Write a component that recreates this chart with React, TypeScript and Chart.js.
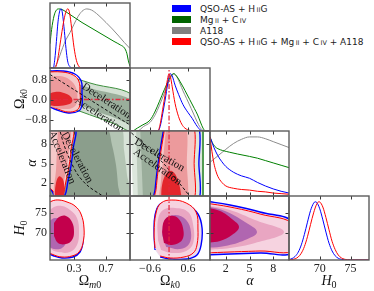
import React, { useEffect, useRef } from "react";
import { Chart, registerables } from "chart.js";
Chart.register(...registerables);

type P = [number, number];

// ---------- tick values ----------
const omTicks = [0.3, 0.7];
const okTicksX = [-0.6, 0.6];
const okTicksY = [0.8, 0.0, -0.8];
const alTicks = [2, 5, 8];
const h0Ticks = [70, 75];

// ---------- 1D marginal posteriors ----------
const omBlue: P[] = [[0,0],[0.04,0],[0.06,0.15],[0.08,0.45],[0.1,0.78],[0.125,0.98],[0.14,1.0],[0.155,0.93],[0.18,0.62],[0.2,0.33],[0.22,0.12],[0.25,0.02],[0.29,0],[1,0]];
const omGreen: P[] = [[0,0.41],[0.02,0.65],[0.05,0.88],[0.08,0.98],[0.11,1.0],[0.15,0.99],[0.2,0.95],[0.3,0.86],[0.4,0.77],[0.5,0.69],[0.6,0.61],[0.7,0.53],[0.8,0.45],[0.88,0.39],[0.93,0.34],[0.96,0.25],[0.98,0.12],[1.0,0.03]];
const omGray: P[] = [[0.05,0],[0.08,0.06],[0.12,0.2],[0.16,0.35],[0.2,0.48],[0.25,0.6],[0.3,0.74],[0.35,0.87],[0.4,0.96],[0.46,1.0],[0.52,0.98],[0.6,0.9],[0.7,0.77],[0.78,0.66],[0.86,0.54],[0.93,0.43],[1.0,0.33]];
const omRed: P[] = [[0,0],[0.06,0],[0.09,0.1],[0.12,0.35],[0.15,0.62],[0.18,0.85],[0.21,0.99],[0.225,1.0],[0.245,0.93],[0.27,0.68],[0.3,0.35],[0.33,0.13],[0.36,0.03],[0.4,0],[1,0]];

const okRed: P[] = [[-1.3,0],[-0.35,0],[-0.28,0.12],[-0.2,0.38],[-0.12,0.65],[-0.05,0.9],[0,1.0],[0.05,0.93],[0.1,0.77],[0.19,0.48],[0.3,0.25],[0.4,0.12],[0.5,0.05],[0.66,0.01],[0.8,0],[1.3,0]];
const okBlue: P[] = [[-1.3,0],[-0.35,0],[-0.28,0.08],[-0.2,0.3],[-0.1,0.62],[-0.02,0.9],[0.04,1.0],[0.1,0.96],[0.19,0.8],[0.3,0.64],[0.44,0.46],[0.6,0.32],[0.73,0.22],[0.85,0.11],[0.98,0.02],[1.05,0],[1.3,0]];
const okGreen: P[] = [[-1.3,0],[-1.17,0],[-1.0,0.05],[-0.85,0.1],[-0.6,0.19],[-0.45,0.33],[-0.3,0.52],[-0.15,0.72],[0,0.9],[0.1,0.99],[0.15,1.0],[0.25,0.95],[0.35,0.86],[0.5,0.71],[0.65,0.55],[0.8,0.39],[0.9,0.28],[1.0,0.14],[1.07,0.05],[1.15,0],[1.3,0]];
const okGray: P[] = [[-1.3,0],[-1.0,0],[-0.8,0.08],[-0.6,0.15],[-0.45,0.27],[-0.3,0.45],[-0.15,0.66],[0,0.87],[0.1,0.98],[0.15,1.0],[0.25,0.94],[0.35,0.82],[0.44,0.7],[0.55,0.57],[0.7,0.39],[0.82,0.24],[0.93,0.11],[1.04,0.02],[1.1,0],[1.3,0]];
const okFlatLine1D: P[] = [[0,0],[0,1.2]];

const alRed: P[] = [[0,1.0],[0.25,0.75],[0.5,0.55],[0.75,0.42],[1,0.33],[1.5,0.23],[2,0.17],[3,0.13],[4,0.11],[5,0.1],[6,0.08],[7,0.07],[8,0.05],[9,0.04],[10,0.03]];
const alBlue: P[] = [[0,1.0],[0.5,0.82],[1,0.68],[1.5,0.58],[2,0.5],[3,0.4],[4,0.34],[5,0.3],[6,0.23],[7,0.17],[8,0.12],[9,0.08],[10,0.05]];
const alGreen: P[] = [[0,1.0],[0.3,0.9],[0.6,0.84],[1,0.8],[1.6,0.77],[2.5,0.74],[3.5,0.71],[5,0.67],[6,0.64],[7,0.6],[8,0.56],[9,0.52],[10,0.48]];
const alGray: P[] = [[0,0.57],[1,0.68],[2,0.79],[3,0.89],[4,0.96],[5,1.0],[6,1.0],[7,0.97],[8,0.92],[9,0.87],[10,0.82]];

const h0Blue: P[] = [[64.5,0.003],[65,0.009],[65.5,0.025],[66,0.062],[66.5,0.135],[67,0.26],[67.5,0.44],[68,0.65],[68.5,0.85],[69,0.977],[69.25,1.0],[69.5,0.99],[70,0.88],[70.5,0.69],[71,0.48],[71.5,0.29],[72,0.156],[72.5,0.073],[73,0.03],[73.5,0.011],[74,0.004],[74.5,0.001],[78,0]];
const h0Red: P[] = [[64.5,0.001],[65,0.002],[65.5,0.007],[66,0.021],[66.5,0.052],[67,0.117],[67.5,0.23],[68,0.4],[68.5,0.61],[69,0.81],[69.5,0.96],[69.85,1.0],[70,0.997],[70.5,0.91],[71,0.73],[71.5,0.52],[72,0.32],[72.5,0.18],[73,0.086],[73.5,0.037],[74,0.014],[74.5,0.005],[75,0.001],[78,0]];

// ---------- 2D contours: Omega_m0 vs Omega_k0 ----------
const A_green2: P[] = [[-0.075,1.22],[0.5,0.66],[1.075,0.06],[1.075,-1.26],[0.75,-0.9],[0.4,-0.5],[0.125,-0.18],[-0.075,0.06]];
const A_green1: P[] = [[-0.025,0.98],[0.5,0.46],[1.075,-0.14],[1.075,-0.98],[0.75,-0.66],[0.4,-0.26],[0.125,0.06],[-0.025,0.26]];
const A_blue: P[] = [[-0.05,1.14],[0.16,1.14],[0.31,1.02],[0.39,0.74],[0.4,0.26],[0.4,-0.22],[0.36,-0.46],[0.23,-0.54],[0.09,-0.42],[-0.05,-0.22]];
const A_red2: P[] = [[-0.05,1.1],[0.15,1.1],[0.29,0.98],[0.36,0.74],[0.375,0.3],[0.375,-0.18],[0.34,-0.42],[0.225,-0.5],[0.1,-0.38],[-0.05,-0.18]];
const A_red1: P[] = [[-0.05,0.86],[0.125,0.94],[0.25,0.78],[0.325,0.46],[0.34,-0.02],[0.3,-0.3],[0.175,-0.38],[-0.05,-0.26]];
const A_red0: P[] = [[-0.05,0.18],[0.0625,0.3],[0.175,0.26],[0.2625,0.1],[0.275,-0.1],[0.2,-0.22],[0.075,-0.26],[-0.05,-0.22]];
const A_decel: P[] = [[0,1.0],[1.0,-1.02]];
const A_flat: P[] = [[-0.1,0],[1.1,0]];

// ---------- Omega_m0 vs alpha ----------
const B_g0: P[] = [[-0.05,10.6],[1.05,10.6],[1.05,-0.6],[-0.05,-0.6]];
const B_g1: P[] = [[0.125,10.6],[0.875,10.6],[0.925,7.1],[0.9625,3.23],[1.0,-0.6],[0.0625,-0.6]];
const B_g2: P[] = [[0.2,10.6],[0.7,10.6],[0.775,7.85],[0.825,4.77],[0.85,1.69],[0.8625,-0.6],[-0.05,-0.6],[-0.05,1.7]];
const B_blue: P[] = [[-0.05,10.6],[0.3,10.6],[0.2875,7.08],[0.2625,4.62],[0.225,2.31],[0.175,-0.15],[0.075,-0.3],[0.025,0.77],[-0.05,1.85]];
const B_red2: P[] = [[-0.05,10.6],[0.275,10.6],[0.2625,7.08],[0.2375,4.62],[0.2,2.31],[0.15,-0.15],[0.0875,-0.3],[0.0375,0.77],[-0.05,1.69]];
const B_red1: P[] = [[0.1,10.6],[0.25,10.6],[0.2375,7.08],[0.2125,4.62],[0.175,2.31],[0.1375,-0.3],[0.05,-0.3],[0.075,4.0],[0.0875,7.08]];
const B_red0: P[] = [[0.06,-0.3],[0.07,1.69],[0.11,3.0],[0.16,2.6],[0.18,1.0],[0.17,-0.3]];
const B_decel: P[] = [[0.11,10.6],[0.125,10],[0.175,7.85],[0.25,5.54],[0.35,3.23],[0.475,1.54],[0.66,0],[0.7,-0.3]];

// ---------- Omega_k0 vs alpha ----------
const C_g0: P[] = [[-1.2,10.6],[1.07,10.6],[1.07,-0.6],[-1.14,-0.6]];
const C_g1: P[] = [[-1.04,10.6],[0.73,10.6],[0.79,-0.6],[-0.98,-0.6]];
const C_g2: P[] = [[-0.91,10.6],[0.19,10.6],[0.28,-0.6],[-0.82,-0.6]];
const C_blue: P[] = [[-0.16,10.6],[-0.28,7.08],[-0.38,3.69],[-0.44,1.0],[-0.47,-0.6],[0.2,-0.8],[0.93,-0.6],[0.94,5],[0.93,10.6],[0.4,10.8]];
const C_red2: P[] = [[-0.13,10.6],[-0.25,7.08],[-0.35,3.69],[-0.41,1.0],[-0.44,-0.6],[0.2,-0.8],[0.78,-0.6],[0.79,5],[0.78,10.6],[0.35,10.8]];
const C_red1: P[] = [[-0.09,10.6],[-0.19,5.54],[-0.26,2.0],[-0.28,-0.6],[0.2,-0.8],[0.57,-0.6],[0.56,5],[0.54,10.6],[0.2,10.8]];
const C_red0: P[] = [[-0.25,-0.6],[-0.22,1.69],[-0.09,3.38],[0.09,3.85],[0.28,2.46],[0.41,-0.6]];
const C_decel: P[] = [[-1.3,10.2],[-0.76,7.85],[-0.13,4.77],[0.19,2.77],[0.57,0.46],[0.65,-0.3]];
const C_flat: P[] = [[0,-1],[0,11]];

// ---------- Omega_m0 vs H0 ----------
const E_blue: P[] = [[-0.05,76.75],[0.025,77.75],[0.1,78],[0.2,77.5],[0.3,76.5],[0.375,74.75],[0.4125,71.25],[0.4125,67.75],[0.375,65.25],[0.2875,64],[0.15,63.75],[0.05,64.25],[-0.05,65.25]];
const E_red2: P[] = [[-0.05,77],[0.025,78],[0.1125,78.25],[0.2125,77.75],[0.3125,76.75],[0.3875,74.75],[0.425,71.25],[0.4125,67.5],[0.3625,65.25],[0.275,64.25],[0.15,64],[0.05,64.5],[-0.05,65.5]];
const E_pink: P[] = [[-0.025,75.25],[0.05,76.5],[0.15,76.75],[0.25,75.75],[0.3375,73.75],[0.3625,70.25],[0.3375,67],[0.25,65.25],[0.1,65.25],[0,66.25],[-0.025,68.25]];
const E_purple: P[] = [[-0.025,72.75],[0.0625,73.75],[0.15,73.25],[0.2,71.25],[0.2125,68.25],[0.15,66.25],[0.05,66],[-0.025,66.75]];
const E_crimson: P[] = [[0.05,72.5],[0.1125,74],[0.2,74.25],[0.275,72.75],[0.3,70.25],[0.275,68.25],[0.2,67.25],[0.1,67.5],[0.05,69.25]];

// ---------- Omega_k0 vs H0 ----------
const F_blue: P[] = [[-0.44,65.75],[-0.47,69.5],[-0.44,74.5],[-0.28,77.25],[0.09,77.75],[0.57,77],[0.91,74.75],[1.04,71.25],[1.01,67],[0.88,64.5],[0.57,63.5],[0.03,63.5],[-0.28,64]];
const F_red2: P[] = [[-0.44,66.25],[-0.47,70],[-0.41,75],[-0.25,77.5],[0.09,78.25],[0.54,77.5],[0.85,75.25],[0.91,71.25],[0.88,67],[0.76,65],[0.47,64],[0.03,63.75],[-0.28,64.25]];
const F_pink: P[] = [[-0.35,68.25],[-0.35,73.25],[-0.19,75.75],[0.19,76.25],[0.6,75.25],[0.76,72],[0.76,67.5],[0.54,65.5],[0.09,65],[-0.25,65.75]];
const F_purple: P[] = [[-0.22,69.5],[-0.13,73.25],[0.19,74.5],[0.54,73.25],[0.69,70.25],[0.63,67.25],[0.35,66],[-0.09,66.5]];
const F_crimson: P[] = [[-0.22,70.25],[-0.16,73],[0.03,74.25],[0.28,73.75],[0.44,71.25],[0.41,68.25],[0.09,67],[-0.16,67.5]];
const F_flat: P[] = [[0,60],[0,82]];

// ---------- alpha vs H0 ----------
const G_blue: P[] = [[-0.63,78],[2.53,77],[6.33,75.25],[10.63,72.5],[10.63,65.25],[6.33,65],[2.53,64.75],[-0.63,64.5]];
const G_red2: P[] = [[-0.63,77.5],[2.53,76.5],[6.33,74.75],[10.63,72],[10.63,65.75],[6.33,65.5],[2.53,65.25],[-0.63,65]];
const G_pink: P[] = [[-0.63,77],[2.53,75.75],[5.7,73.25],[9.37,70.25],[5.7,67.5],[2.53,66.25],[-0.63,65.75]];
const G_purple: P[] = [[-0.63,76.75],[1.9,75.5],[4.43,72.75],[5.95,70.25],[4.43,68.25],[1.9,66.75],[-0.63,66.25]];
const G_crimson: P[] = [[-0.63,76.5],[1.27,75.5],[2.78,73.5],[3.67,71.5],[2.78,69.5],[1.27,68],[-0.63,67.5]];

// ---------- legend ----------
const legendEntries: { color: string; parts: [string, boolean][] }[] = [
  { color: "#0000ff", parts: [["QSO-AS + H", false], ["II", true], ["G", false]] },
  { color: "#006400", parts: [["Mg", false], ["II", true], [" + C", false], ["IV", true]] },
  { color: "#808080", parts: [["A118", false]] },
  { color: "#ff0000", parts: [["QSO-AS + H", false], ["II", true], ["G + Mg", false], ["II", true], [" + C", false], ["IV", true], [" + A118", false]] },
];

// ---------- styling / layout ----------
const COLS = [50, 130, 210, 289, 369];
const ROWS = [3, 68, 131, 196, 260];
const BLUE = "#0000ff", RED = "#ff0000", GREEN = "#008000", GRAY = "#8c8c8c";
const FLAT = "rgba(228,40,62,0.95)";

const f1 = (v: number) => v.toFixed(1).replace("-", "\u2212");
const fi = (v: number) => String(Math.round(v));
const AXES: Record<string, { min: number; max: number; ticks: number[]; fmt: (v: number) => string }> = {
  om: { min: 0, max: 1, ticks: omTicks, fmt: f1 },
  okx: { min: -1.23, max: 1.29, ticks: okTicksX, fmt: f1 },
  oky: { min: -1.26, max: 1.26, ticks: okTicksY, fmt: f1 },
  alx: { min: 0, max: 10, ticks: alTicks, fmt: fi },
  aly: { min: 0, max: 10, ticks: alTicks, fmt: fi },
  h0x: { min: 65, max: 78, ticks: h0Ticks, fmt: fi },
  h0y: { min: 63.25, max: 79.25, ticks: h0Ticks, fmt: fi },
  pdf: { min: 0, max: 1.1, ticks: [], fmt: fi },
};

type L = { d: P[]; fill?: string; line?: string; lw?: number; dash?: number[]; t?: number; mono?: boolean };
type PanelSpec = { r: number; c: number; x: string; y: string; xLab: boolean; yLab: boolean; twoD: boolean; layers: L[] };

const curve = (d: P[], color: string): L => ({ d, line: color, lw: 1, mono: true });
const flatV = (d: P[]): L => ({ d, line: FLAT, lw: 1.3, dash: [5, 2, 1.5, 2], t: 0 });
const decel = (d: P[]): L => ({ d, line: "#111", lw: 1, dash: [3, 2], t: 0.3 });

const PANELS: PanelSpec[] = [
  { r: 0, c: 0, x: "om", y: "pdf", xLab: false, yLab: false, twoD: false,
    layers: [curve(omGray, GRAY), curve(omGreen, GREEN), curve(omBlue, BLUE), curve(omRed, RED)] },
  { r: 1, c: 0, x: "om", y: "oky", xLab: false, yLab: true, twoD: true,
    layers: [
      { d: A_green2, fill: "#d3e0d3", line: "#3d8f3d", lw: 1 },
      { d: A_green1, fill: "#9aae9b" },
      { d: A_blue, line: BLUE, lw: 1.4 },
      { d: A_red2, fill: "#f5caca", line: RED, lw: 1 },
      { d: A_red1, fill: "#ec9a9c" },
      { d: A_red0, fill: "#e3262c" },
      decel(A_decel),
      flatV(A_flat),
    ] },
  { r: 1, c: 1, x: "okx", y: "pdf", xLab: false, yLab: false, twoD: false,
    layers: [curve(okGray, GRAY), curve(okGreen, GREEN), curve(okBlue, BLUE), curve(okRed, RED), flatV(okFlatLine1D)] },
  { r: 2, c: 0, x: "om", y: "aly", xLab: false, yLab: true, twoD: true,
    layers: [
      { d: B_g0, fill: "#d8e3d8", t: 0 },
      { d: B_g1, fill: "#b3c4b3", t: 0.3 },
      { d: B_g2, fill: "#8b9e8c", t: 0.3 },
      { d: B_blue, line: BLUE, lw: 1.4 },
      { d: B_red2, fill: "#f5caca", line: RED, lw: 1 },
      { d: B_red1, fill: "#ec9a9c" },
      { d: B_red0, fill: "#e3262c" },
      decel(B_decel),
    ] },
  { r: 2, c: 1, x: "okx", y: "aly", xLab: false, yLab: false, twoD: true,
    layers: [
      { d: C_g0, fill: "#dde7dd", line: "#3d8f3d", lw: 1, t: 0 },
      { d: C_g1, fill: "#bccbbc", t: 0 },
      { d: C_g2, fill: "#9aad9b", t: 0 },
      { d: C_blue, line: BLUE, lw: 1.4, t: 0.3 },
      { d: C_red2, fill: "#f5caca", line: RED, lw: 1, t: 0.3 },
      { d: C_red1, fill: "#ec9a9c", t: 0.3 },
      { d: C_red0, fill: "#e3262c" },
      decel(C_decel),
      flatV(C_flat),
    ] },
  { r: 2, c: 2, x: "alx", y: "pdf", xLab: false, yLab: false, twoD: false,
    layers: [curve(alGray, GRAY), curve(alGreen, GREEN), curve(alBlue, BLUE), curve(alRed, RED)] },
  { r: 3, c: 0, x: "om", y: "h0y", xLab: true, yLab: true, twoD: true,
    layers: [
      { d: E_blue, fill: "#ecdcef", line: BLUE, lw: 1.4 },
      { d: E_red2, fill: "#f6d3e0", line: RED, lw: 1 },
      { d: E_pink, fill: "#e9a6c2" },
      { d: E_purple, fill: "#b066b0" },
      { d: E_crimson, fill: "#c3004c" },
    ] },
  { r: 3, c: 1, x: "okx", y: "h0y", xLab: true, yLab: false, twoD: true,
    layers: [
      { d: F_blue, fill: "#ecdcef", line: BLUE, lw: 1.4 },
      { d: F_red2, fill: "#f6d3e0", line: RED, lw: 1 },
      { d: F_pink, fill: "#e9a6c2" },
      { d: F_purple, fill: "#b066b0" },
      { d: F_crimson, fill: "#c3004c" },
      flatV(F_flat),
    ] },
  { r: 3, c: 2, x: "alx", y: "h0y", xLab: true, yLab: false, twoD: true,
    layers: [
      { d: G_blue, fill: "#ecdcef", line: BLUE, lw: 1.4 },
      { d: G_red2, fill: "#f6d3e0", line: RED, lw: 1 },
      { d: G_pink, fill: "#e9a6c2" },
      { d: G_purple, fill: "#b066b0" },
      { d: G_crimson, fill: "#c3004c" },
    ] },
  { r: 3, c: 3, x: "h0x", y: "pdf", xLab: true, yLab: false, twoD: false,
    layers: [curve(h0Blue, BLUE), curve(h0Red, RED)] },
];

const framePlugin = {
  id: "frame",
  afterDatasetsDraw(chart: any, _args: any, opts: any) {
    const { ctx, chartArea: a, scales } = chart;
    ctx.save();
    ctx.strokeStyle = "#3a3a3a";
    ctx.lineWidth = 1;
    ctx.beginPath();
    for (const v of opts.xt || []) {
      const px = Math.round(scales.x.getPixelForValue(v)) + 0.5;
      ctx.moveTo(px, a.bottom); ctx.lineTo(px, a.bottom - 3.5);
      ctx.moveTo(px, a.top); ctx.lineTo(px, a.top + 3.5);
    }
    for (const v of opts.yt || []) {
      const py = Math.round(scales.y.getPixelForValue(v)) + 0.5;
      ctx.moveTo(a.left, py); ctx.lineTo(a.left + 3.5, py);
      ctx.moveTo(a.right, py); ctx.lineTo(a.right - 3.5, py);
    }
    ctx.stroke();
    ctx.strokeStyle = "#5c5c5c";
    ctx.lineWidth = 1.4;
    ctx.strokeRect(a.left, a.top, a.right - a.left, a.bottom - a.top);
    ctx.restore();
  },
};

function scaleCfg(key: string, show: boolean, isX: boolean) {
  const ax = AXES[key];
  return {
    type: "linear",
    min: ax.min,
    max: ax.max,
    display: show,
    afterBuildTicks: (s: any) => { s.ticks = ax.ticks.map((v) => ({ value: v })); },
    afterFit: (s: any) => {
      if (show) { if (isX) s.height = 22; else s.width = 40; }
      else { if (isX) s.height = 0; else s.width = 0; }
      s.paddingLeft = 0; s.paddingRight = 0; s.paddingTop = 0; s.paddingBottom = 0;
    },
    grid: { display: false, drawTicks: false },
    border: { display: false },
    ticks: {
      font: { family: "Liberation Serif", size: 12 },
      color: "#222",
      padding: isX ? 2 : 3,
      maxRotation: 0,
      autoSkip: false,
      callback: (v: any) => ax.fmt(Number(v)),
    },
  };
}

function buildConfig(p: PanelSpec): any {
  const n = p.layers.length;
  const datasets = p.layers.map((l, i) => ({
    data: l.d.map(([x, y]) => ({ x, y })),
    borderColor: l.line || "rgba(0,0,0,0)",
    borderWidth: l.line ? l.lw || 1 : 0,
    backgroundColor: l.fill || "rgba(0,0,0,0)",
    fill: l.fill ? "shape" : false,
    tension: l.t !== undefined ? l.t : 0.4,
    cubicInterpolationMode: l.mono ? "monotone" : "default",
    borderDash: l.dash || [],
    pointRadius: 0,
    order: n - i,
  }));
  return {
    type: "line",
    data: { datasets },
    options: {
      animation: false,
      responsive: false,
      events: [],
      layout: { padding: { left: p.yLab ? 0 : 3, right: 3, top: 3, bottom: p.xLab ? 0 : 3 } },
      scales: { x: scaleCfg(p.x, p.xLab, true), y: scaleCfg(p.y, p.yLab, false) },
      elements: { point: { radius: 0 }, line: { capBezierPoints: false } },
      plugins: {
        legend: { display: false },
        tooltip: { enabled: false },
        frame: { xt: AXES[p.x].ticks, yt: p.twoD ? AXES[p.y].ticks : [] },
      },
    },
    plugins: [framePlugin],
  };
}

function PanelChart({ p }: { p: PanelSpec }) {
  const ref = useRef<HTMLCanvasElement>(null);
  const x0 = COLS[p.c], x1 = COLS[p.c + 1], y0 = ROWS[p.r], y1 = ROWS[p.r + 1];
  const padL = p.yLab ? 40 : 3, padB = p.xLab ? 22 : 3;
  const w = x1 - x0 + padL + 3, h = y1 - y0 + 3 + padB;
  useEffect(() => {
    const chart = new Chart(ref.current as HTMLCanvasElement, buildConfig(p));
    return () => chart.destroy();
  }, []);
  return (
    <canvas ref={ref} width={w} height={h}
      style={{ position: "absolute", left: x0 - padL, top: y0 - 3, width: w, height: h }} />
  );
}

const serif = '"Liberation Serif", "DejaVu Serif", serif';

function Title({ x, y, rot, children }: { x: number; y: number; rot?: boolean; children: any }) {
  return (
    <div style={{ position: "absolute", left: x, top: y, transform: `translate(-50%,-50%)${rot ? " rotate(-90deg)" : ""}`,
      font: `14px ${serif}`, color: "#111", whiteSpace: "nowrap", lineHeight: "16px" }}>{children}</div>
  );
}
const Sub = ({ children }: { children: any }) => (
  <span style={{ fontSize: 10, position: "relative", top: 3 }}>{children}</span>
);

const regimeTexts = [
  { r: 1, c: 0, text: "Deceleration", cx: 107, cy: 100, rot: 33 },
  { r: 1, c: 0, text: "Acceleration", cx: 100, cy: 114, rot: 33 },
  { r: 2, c: 0, text: "Deceleration", cx: 78, cy: 157, rot: 62 },
  { r: 2, c: 0, text: "Acceleration", cx: 63, cy: 157, rot: 68 },
  { r: 2, c: 1, text: "Deceleration", cx: 160, cy: 154, rot: 30 },
  { r: 2, c: 1, text: "Acceleration", cx: 158, cy: 166, rot: 35 },
];

export default function App() {
  useEffect(() => { document.body.style.margin = "0"; }, []);
  return (
    <div style={{ position: "fixed", left: 0, top: 0, width: 374, height: 291, background: "#fff", overflow: "hidden" }}>
      {PANELS.map((p, i) => <PanelChart key={i} p={p} />)}

      {regimeTexts.map((t, i) => {
        const x0 = COLS[t.c], y0 = ROWS[t.r];
        return (
          <div key={"rt" + i} style={{ position: "absolute", left: x0 + 1, top: y0 + 1, width: COLS[t.c + 1] - x0 - 2, height: ROWS[t.r + 1] - y0 - 2, overflow: "hidden" }}>
            <span style={{ position: "absolute", left: t.cx - x0 - 1, top: t.cy - y0 - 1, transform: `translate(-50%,-50%) rotate(${t.rot}deg)`,
              font: `11px ${serif}`, color: "#111", whiteSpace: "nowrap" }}>{t.text}</span>
          </div>
        );
      })}

      <div style={{ position: "absolute", left: 172, top: 3 }}>
        {legendEntries.map((e, i) => (
          <div key={i} style={{ position: "absolute", left: 0, top: i * 11, height: 11, display: "flex", alignItems: "center", whiteSpace: "nowrap" }}>
            <div style={{ width: 19, height: 7, background: e.color }} />
            <span style={{ marginLeft: 9, font: '9px "DejaVu Sans", sans-serif', color: "#222" }}>
              {e.parts.map(([s, sc], j) => sc
                ? <span key={j} style={{ fontSize: "0.72em", marginLeft: 1.5 }}>{s}</span>
                : <span key={j}>{s}</span>)}
            </span>
          </div>
        ))}
      </div>

      <Title x={90} y={281}>Ω<Sub><i>m</i>0</Sub></Title>
      <Title x={170} y={281}>Ω<Sub><i>k</i>0</Sub></Title>
      <Title x={250} y={281}><i>α</i></Title>
      <Title x={329} y={281}><i>H</i><Sub>0</Sub></Title>
      <Title x={20} y={99} rot>Ω<Sub><i>k</i>0</Sub></Title>
      <Title x={32} y={163} rot><i>α</i></Title>
      <Title x={20} y={228} rot><i>H</i><Sub>0</Sub></Title>
    </div>
  );
}
